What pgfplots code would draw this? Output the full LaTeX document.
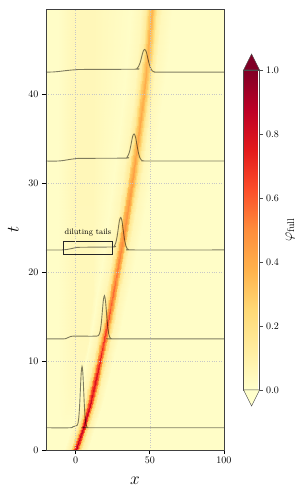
\documentclass[border=0pt]{standalone}
\usepackage{fontspec}
\usepackage{pgfplots}
\pgfplotsset{compat=1.18}
\pgfplotsset{colormap={ylorrd}{rgb255=(255,255,204) rgb255=(255,237,160) rgb255=(254,217,118) rgb255=(254,178,76) rgb255=(253,141,60) rgb255=(252,78,42) rgb255=(227,26,28) rgb255=(189,0,38) rgb255=(128,0,38)}}
\definecolor{cbtop}{RGB}{128,0,38}
\definecolor{cbbot}{RGB}{255,255,204}
\definecolor{bgc}{RGB}{255,252,199}

\pgfplotstableread{
x t c
-20 0 0.015
-16 0 0.015
-13 0 0.015
-10 0 0.015
-8 0 0.015
-4 0 0.089
-2.2 0 0.278
-1 0 0.665
0 0 0.88
1 0 0.665
2.2 0 0.278
4 0 0.089
8 0 0.015
100 0 0.015

-20 2.5 0.015
-14 2.5 0.015
-10 2.5 0.015
-6 2.5 0.015
-3 2.5 0.015
1 2.5 0.086
2.8 2.5 0.269
4 2.5 0.643
5 2.5 0.85
6 2.5 0.643
7.2 2.5 0.269
9 2.5 0.086
13 2.5 0.015
100 2.5 0.015

-20 5 0.015
-12 5 0.015
-5 5 0.03
-1 5 0.03
1.1 5 0.015
5.3 5 0.084
7.19 5 0.26
8.45 5 0.62
9.5 5 0.82
10.55 5 0.62
11.81 5 0.26
13.7 5 0.084
17.9 5 0.015
100 5 0.015

-20 7.5 0.015
-12 7.5 0.015
-3 7.5 0.04
2 7.5 0.04
4.2 7.5 0.015
8.6 7.5 0.081
10.58 7.5 0.248
11.9 7.5 0.59
13 7.5 0.78
14.1 7.5 0.59
15.42 7.5 0.248
17.4 7.5 0.081
21.8 7.5 0.015
100 7.5 0.015

-20 10 0.015
-12 10 0.015
-2 10 0.045
5 10 0.045
7.0 10 0.015
11.6 10 0.078
13.67 10 0.236
15.05 10 0.56
16.2 10 0.74
17.35 10 0.56
18.73 10 0.236
20.8 10 0.078
25.4 10 0.015
100 10 0.015

-20 12.5 0.015
-12 12.5 0.015
-2 12.5 0.05
8 12.5 0.05
9.7 12.5 0.015
14.5 12.5 0.073
16.66 12.5 0.218
18.1 12.5 0.515
19.3 12.5 0.68
20.5 12.5 0.515
21.94 12.5 0.218
24.1 12.5 0.073
28.9 12.5 0.015
100 12.5 0.015

-20 15 0.015
-12 15 0.015
-2 15 0.05
10 15 0.05
12.2 15 0.015
17.2 15 0.068
19.45 15 0.2
20.95 15 0.47
22.2 15 0.62
23.45 15 0.47
24.95 15 0.2
27.2 15 0.068
32.2 15 0.015
100 15 0.015

-20 17.5 0.015
-12 17.5 0.015
-2 17.5 0.05
12 17.5 0.05
14.6 17.5 0.015
19.8 17.5 0.064
22.14 17.5 0.185
23.7 17.5 0.433
25 17.5 0.57
26.3 17.5 0.433
27.86 17.5 0.185
30.2 17.5 0.064
35.4 17.5 0.015
100 17.5 0.015

-20 20 0.015
-12 20 0.015
-2 20 0.05
12 20 0.05
17.0 20 0.015
22.4 20 0.06
24.83 20 0.17
26.45 20 0.4
27.8 20 0.53
29.15 20 0.4
30.77 20 0.17
33.2 20 0.06
38.6 20 0.015
100 20 0.015

-20 25 0.015
-12 25 0.015
-2 25 0.05
12 25 0.05
21.4 25 0.015
27.2 25 0.057
29.81 25 0.158
31.55 25 0.365
33 25 0.48
34.45 25 0.365
36.19 25 0.158
38.8 25 0.057
44.6 25 0.015
100 25 0.015

-20 30 0.015
-12 30 0.015
-2 30 0.055
12 30 0.055
25.3 30 0.015
31.5 30 0.054
34.29 30 0.146
36.15 30 0.335
37.7 30 0.44
39.25 30 0.335
41.11 30 0.146
43.9 30 0.054
50.1 30 0.015
100 30 0.015

-20 35 0.015
-12 35 0.015
-2 35 0.055
12 35 0.055
29.2 35 0.015
35.6 35 0.051
38.48 35 0.137
40.4 35 0.313
42 35 0.41
43.6 35 0.313
45.52 35 0.137
48.4 35 0.051
54.8 35 0.015
100 35 0.015

-20 40 0.015
-12 40 0.015
-2 40 0.055
12 40 0.055
32.6 40 0.015
39.2 40 0.05
42.17 40 0.131
44.15 40 0.298
45.8 40 0.39
47.45 40 0.298
49.43 40 0.131
52.4 40 0.05
59.0 40 0.015
100 40 0.015

-20 45 0.015
-12 45 0.015
-2 45 0.055
12 45 0.055
35.4 45 0.015
42.2 45 0.049
45.26 45 0.128
47.3 45 0.29
49 45 0.38
50.7 45 0.29
52.74 45 0.128
55.8 45 0.049
62.6 45 0.015
100 45 0.015

-20 49.6 0.015
-12 49.6 0.015
-2 49.6 0.055
12 49.6 0.055
37.2 49.6 0.015
44.2 49.6 0.048
47.35 49.6 0.125
49.45 49.6 0.283
51.2 49.6 0.37
52.95 49.6 0.283
55.05 49.6 0.125
58.2 49.6 0.048
65.2 49.6 0.015
100 49.6 0.015
}\fieldtable

\begin{document}
\begin{tikzpicture}
\useasboundingbox (0,0) rectangle (295pt,496pt);
\begin{axis}[
  at={(46pt,46pt)}, anchor=south west,
  scale only axis, width=178pt, height=441pt,
  xmin=-20, xmax=100, ymin=0, ymax=49.6,
  colormap name=ylorrd, point meta min=0, point meta max=1,
  axis background/.style={fill=bgc},
  axis on top,
  xtick={0,50,100}, ytick={0,10,20,30,40},
  grid=major, grid style={dotted, black!22, line width=0.5pt},
  tick align=outside, xtick pos=left, ytick pos=left,
  major tick length=4pt,
  tick style={black, line width=0.8pt},
  axis line style={black!75, line width=0.8pt},
  xlabel={$x$}, ylabel={$t$},
  label style={font=\fontsize{17}{20}\selectfont},
  xlabel style={yshift=-6pt},
  ylabel style={yshift=3pt},
  tick label style={font=\fontsize{10}{12}\selectfont},
  colorbar,
  colorbar style={
    at={(parent axis.north east)}, anchor=north west, xshift=11pt, yshift=-61pt,
    scale only axis, width=16pt, height=320pt,
    ytick={0,0.2,0.4,0.6,0.8,1},
    yticklabel style={font=\fontsize{10}{12}\selectfont, /pgf/number format/fixed, /pgf/number format/fixed zerofill, /pgf/number format/precision=1},
    tick align=outside, major tick length=3pt,
    ytick pos=right, yticklabel pos=right,
    tick style={black!70, line width=0.5pt},
    axis line style={black!70, line width=0.5pt},
    ylabel={$\varphi_{\mathrm{full}}$},
    ylabel style={font=\fontsize{14}{16}\selectfont},
    clip=false,
    after end axis/.code={
      \draw[black!70, line width=0.5pt, fill=cbtop] (rel axis cs:0,1) -- (rel axis cs:0.5,1.05) -- (rel axis cs:1,1) -- cycle;
      \draw[black!70, line width=0.5pt, fill=cbbot] (rel axis cs:0,0) -- (rel axis cs:0.5,-0.05) -- (rel axis cs:1,0) -- cycle;
    },
  },
]
\addplot[surf, shader=interp, mesh/cols=14, point meta=explicit] table[x=x, y=t, meta=c] {\fieldtable};

\addplot[black, opacity=0.5, line width=0.9pt, smooth, tension=0.5] coordinates {
(-20,2.5) (-4,2.5) (-2,2.6) (0,2.7) (1.0,2.78) (1.55,3.0) (2.1,3.63) (2.65,4.94) (3.2,6.88) (3.75,8.74) (4.3,9.4) (4.85,8.64) (5.4,6.68) (5.95,4.74) (6.5,3.43) (7.05,2.80) (7.6,2.58) (8.15,2.52) (10,2.5) (100,2.5)};
\addplot[black, opacity=0.5, line width=0.9pt, smooth, tension=0.5] coordinates {
(-20,12.5) (-8,12.5) (-6,12.58) (-4,12.72) (-2,12.8) (12,12.8) (15.2,12.85) (15.9,13.01) (16.6,13.45) (17.3,14.31) (18.0,15.61) (18.7,16.89) (19.4,17.35) (20.1,16.79) (20.8,15.41) (21.5,14.06) (22.2,13.15) (22.9,12.71) (23.6,12.55) (24.3,12.51) (26,12.5) (100,12.5)};
\addplot[black, opacity=0.5, line width=0.9pt, smooth, tension=0.5] coordinates {
(-20,22.5) (-9,22.5) (-6,22.55) (-3,22.65) (0,22.75) (3,22.8) (25.3,22.84) (26.15,22.96) (27.0,23.29) (27.85,23.92) (28.7,24.88) (29.55,25.83) (30.4,26.15) (31.25,25.73) (32.1,24.68) (32.95,23.67) (33.8,22.99) (34.65,22.66) (35.5,22.54) (36.35,22.51) (38,22.5) (100,22.5)};
\addplot[black, opacity=0.5, line width=0.9pt, smooth, tension=0.5] coordinates {
(-20,32.5) (-12,32.5) (-8,32.57) (-4,32.68) (0,32.77) (4,32.8) (33.7,32.83) (34.65,32.93) (35.6,33.21) (36.55,33.72) (37.5,34.52) (38.45,35.30) (39.4,35.55) (40.35,35.2) (41.3,34.32) (42.25,33.47) (43.2,32.91) (44.15,32.63) (45.1,32.53) (46.05,32.51) (48,32.5) (100,32.5)};
\addplot[black, opacity=0.5, line width=0.9pt, smooth, tension=0.5] coordinates {
(-20,42.5) (-15,42.52) (-10,42.6) (-5,42.7) (0,42.77) (5,42.8) (40.3,42.83) (41.35,42.91) (42.4,43.14) (43.45,43.56) (44.5,44.22) (45.55,44.86) (46.6,45.05) (47.65,44.76) (48.7,44.02) (49.75,43.31) (50.8,42.84) (51.85,42.61) (52.9,42.53) (53.95,42.51) (56,42.5) (100,42.5)};

\draw[black!85, line width=0.6pt] (axis cs:-8.5,22) rectangle (axis cs:25,23.5);
\node[font=\fontsize{7.9}{9}\selectfont, inner sep=0pt] at (axis cs:8.3,24.4) {diluting tails};
\end{axis}
\end{tikzpicture}
\end{document}
